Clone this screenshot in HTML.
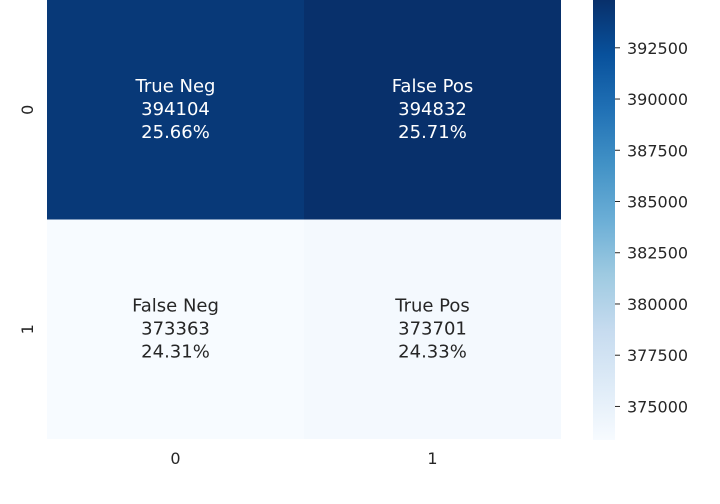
<!DOCTYPE html>
<html><head><meta charset="utf-8"><style>
body{margin:0;background:#fff;}
svg{display:block;font-family:"DejaVu Sans","Liberation Sans",sans-serif;}
</style></head><body>
<svg id="chart" width="720" height="504"></svg>
<script>
const rowLabels=["0","1"];
const colLabels=["0","1"];
const cellNames=[["True Neg","False Pos"],["False Neg","True Pos"]];
const cellValues=[[394104,394832],[373363,373701]];
const cellPercents=["25.66%","25.71%","24.31%","24.33%"];
const cbTicks=[375000,377500,380000,382500,385000,387500,390000,392500];

const NS="http://www.w3.org/2000/svg";
const svg=document.getElementById('chart');
function mk(t,a,p){const e=document.createElementNS(NS,t);for(const k in a)e.setAttribute(k,a[k]);(p||svg).appendChild(e);return e;}
const blues=["#f7fbff","#deebf7","#c6dbef","#9ecae1","#6baed6","#4292c6","#2171b5","#08519c","#08306b"];
function hex(c){return [1,3,5].map(i=>parseInt(c.substr(i,2),16));}
function cmap(t){t=Math.max(0,Math.min(1,t));const s=t*(blues.length-1);const i=Math.min(Math.floor(s),blues.length-2);const f=s-i;const a=hex(blues[i]),b=hex(blues[i+1]);return "rgb("+a.map((v,k)=>Math.round(v+(b[k]-v)*f)).join(",")+")";}
const flat=cellValues.flat();
const vmin=Math.min(...flat),vmax=Math.max(...flat);
const X0=47,W=514,Y0=0,H=439;
const cw=W/colLabels.length,ch=H/rowLabels.length;
const xPos=j=>X0+j*cw, yPos=i=>Y0+i*ch;
cellValues.forEach((row,i)=>row.forEach((v,j)=>{
  const t=(v-vmin)/(vmax-vmin);
  const r=mk('rect',{x:xPos(j),y:yPos(i),width:cw,height:ch,fill:cmap(t)});
  
  
  const col=t>0.5?"#ffffff":"#262626";
  const lines=[cellNames[i][j],String(v),cellPercents[i*2+j]];
  lines.forEach((s,k)=>{
    const tx=mk('text',{x:xPos(j)+cw/2,y:yPos(i)+ch/2-18+k*23,'text-anchor':'middle','font-size':'18',fill:col});
    tx.textContent=s;
    
    
  });
}));
rowLabels.forEach((l,i)=>{
  const y=yPos(i)+ch/2;
  const t=mk('text',{x:33,y:y,'text-anchor':'middle','font-size':'16',fill:'#262626',transform:'rotate(-90 33 '+y+')'});
  t.textContent=l;
  
  
});
colLabels.forEach((l,j)=>{
  const x=xPos(j)+cw/2;
  const t=mk('text',{x:x,y:464,'text-anchor':'middle','font-size':'16',fill:'#262626'});
  t.textContent=l;
  
  
});
const CB={x:593,w:22,y:0,h:440};
const defs=mk('defs',{});
const g=mk('linearGradient',{id:'cbg',x1:0,y1:1,x2:0,y2:0},defs);
blues.forEach((c,k)=>mk('stop',{offset:k/(blues.length-1),'stop-color':c},g));
const cb=mk('rect',{x:CB.x,y:CB.y,width:CB.w,height:CB.h,fill:'url(#cbg)'});


const cbY=v=>CB.y+CB.h*(1-(v-vmin)/(vmax-vmin));
cbTicks.forEach(v=>{
  const y=cbY(v);
  mk('line',{x1:615,x2:620,y1:y,y2:y,stroke:'#262626'});
  const t=mk('text',{x:627,y:y+6,'font-size':'16',fill:'#262626'});
  t.textContent=String(v);
  
  
});
</script>
</body></html>
